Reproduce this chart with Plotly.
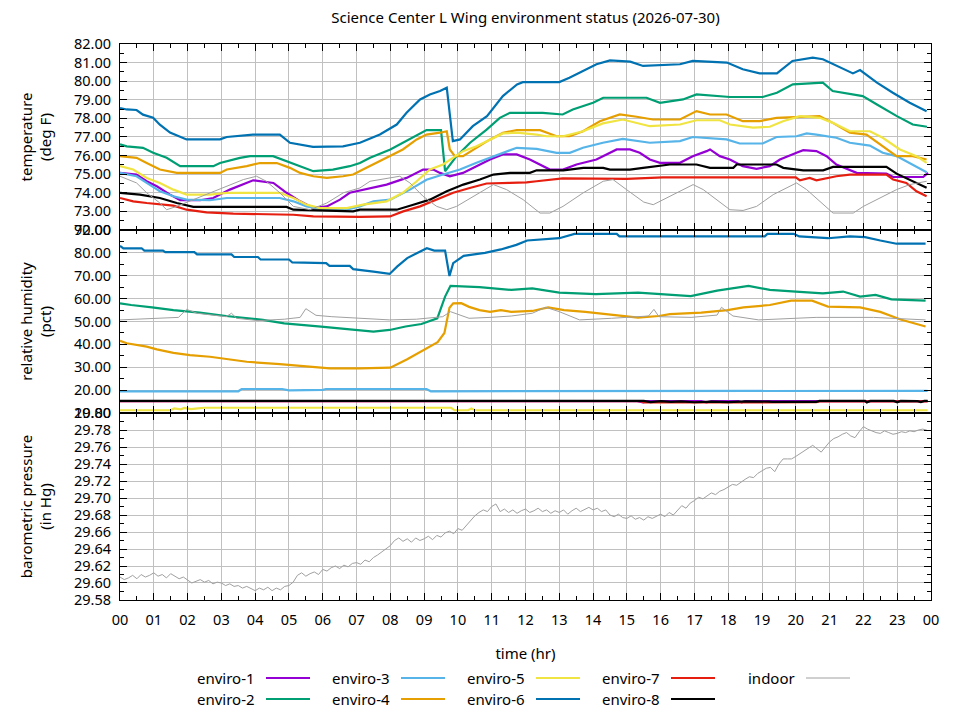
import plotly.graph_objects as go
from plotly.subplots import make_subplots

# ---- temperature (deg F) ----
t_temp1 = [0, 0.49, 0.79, 1.09, 1.48, 1.78, 2.37, 2.76, 3.25, 3.75, 3.94, 4.54, 4.93, 5.33, 5.72, 6.12, 6.51, 6.8,
           7.19, 7.89, 8.48, 8.97, 9.27, 9.47, 9.76, 10.15, 10.55, 10.95, 11.33, 11.74, 12.13, 12.51, 12.72, 13.11,
           13.51, 14.1, 14.7, 15.09, 15.38, 15.68, 15.98, 16.57, 16.95, 17.36, 17.46, 17.75, 18.05, 18.43, 18.84,
           19.23, 19.53, 20.02, 20.22, 20.61, 20.91, 21.2, 21.8, 22.68, 22.88, 23.77, 23.91]
temp1 = [75.07, 74.98, 74.62, 74.35, 73.9, 73.6, 73.6, 73.72, 74.17, 74.53, 74.67, 74.53, 74.0, 73.54, 73.18, 73.27,
         73.63, 74.0, 74.17, 74.44, 74.8, 75.25, 75.25, 75.07, 74.89, 75.07, 75.43, 75.79, 76.06, 76.06, 75.79,
         75.43, 75.25, 75.25, 75.52, 75.79, 76.33, 76.33, 76.15, 75.79, 75.61, 75.61, 75.97, 76.24, 76.33, 75.97,
         75.79, 75.43, 75.29, 75.43, 75.79, 76.15, 76.29, 76.24, 75.97, 75.52, 75.07, 75.03, 74.85, 74.85, 75.07]

t_temp2 = [0, 0.2, 0.68, 0.98, 1.38, 1.78, 2.76, 2.96, 3.55, 3.85, 4.53, 4.94, 5.33, 5.72, 6.3, 6.8, 7.1, 7.4, 8.0,
           8.58, 9.07, 9.5, 9.62, 9.96, 10.36, 10.85, 11.24, 11.54, 12.51, 13.1, 13.4, 14.0, 14.3, 15.09, 15.58,
           15.98, 16.66, 17.06, 18.05, 19.02, 19.44, 19.91, 20.8, 21.09, 21.98, 22.4, 22.99, 23.46, 23.88]
temp2 = [76.6, 76.5, 76.42, 76.15, 75.88, 75.43, 75.43, 75.6, 75.88, 75.97, 75.97, 75.7, 75.43, 75.16, 75.25, 75.43,
         75.6, 75.88, 76.33, 76.87, 77.37, 77.37, 75.16, 75.97, 76.69, 77.4, 78.03, 78.3, 78.3, 78.21, 78.48, 78.84,
         79.11, 79.11, 79.11, 78.84, 79.02, 79.29, 79.15, 79.15, 79.38, 79.83, 79.92, 79.47, 79.2, 78.75, 78.12,
         77.67, 77.55]

t_temp3 = [0, 0.49, 0.79, 1.18, 1.58, 1.97, 2.66, 3.16, 4.73, 5.13, 5.52, 5.92, 6.71, 7.1, 7.5, 8.0, 8.58, 9.07,
           9.56, 10.06, 10.55, 10.95, 11.33, 11.74, 12.33, 12.92, 13.31, 13.7, 14.29, 14.88, 15.68, 16.57, 16.95,
           17.95, 18.34, 19.02, 19.43, 20.02, 20.32, 20.61, 21.2, 21.6, 22.19, 22.57, 22.98, 23.46, 23.87]
temp3 = [75.07, 74.89, 74.53, 74.08, 73.81, 73.63, 73.6, 73.72, 73.72, 73.54, 73.27, 73.13, 73.09, 73.27, 73.54,
         73.63, 74.17, 74.7, 74.98, 75.25, 75.61, 75.88, 76.15, 76.42, 76.36, 76.15, 76.15, 76.42, 76.69, 76.9,
         76.69, 76.78, 77.0, 76.87, 76.65, 76.65, 77.0, 77.04, 77.19, 77.13, 76.96, 76.69, 76.54, 76.15, 75.97,
         75.52, 75.1]

t_temp4 = [0, 0.49, 0.79, 1.18, 1.68, 2.96, 3.16, 3.75, 4.14, 4.64, 5.03, 5.33, 5.72, 6.12, 6.6, 6.9, 7.19, 7.78,
           8.37, 8.78, 9.07, 9.47, 9.67, 9.76, 9.91, 10.15, 10.55, 10.95, 11.33, 11.74, 12.43, 12.92, 13.31, 13.7,
           14.2, 14.79, 15.29, 15.77, 16.57, 17.06, 17.46, 17.95, 18.43, 18.93, 19.43, 19.92, 20.3, 20.7, 21.09,
           21.6, 22.09, 22.57, 22.98, 23.46, 23.87]
temp4 = [75.97, 75.88, 75.6, 75.25, 75.07, 75.07, 75.25, 75.43, 75.6, 75.6, 75.34, 75.07, 74.89, 74.8, 74.89, 74.98,
         75.25, 75.79, 76.33, 76.87, 77.13, 77.23, 77.31, 76.33, 75.97, 75.97, 76.42, 76.87, 77.23, 77.37, 77.37,
         77.04, 77.04, 77.31, 77.85, 78.21, 78.09, 77.94, 77.94, 78.39, 78.21, 78.21, 77.85, 77.85, 78.03, 78.07,
         78.12, 78.12, 77.76, 77.23, 77.13, 76.5, 75.97, 75.97, 75.79]

t_temp5 = [0, 0.39, 0.79, 1.18, 1.58, 1.97, 2.66, 3.16, 4.73, 5.13, 5.52, 5.92, 6.71, 7.19, 7.89, 8.37, 8.78, 9.17,
           9.56, 9.85, 10.15, 10.55, 10.95, 11.33, 11.74, 12.33, 12.62, 13.11, 13.7, 14.29, 14.88, 15.09, 15.68,
           16.57, 17.06, 17.75, 18.05, 18.73, 19.23, 19.62, 20.12, 20.71, 21.09, 21.6, 22.19, 22.57, 23.08, 23.57,
           23.87]
temp5 = [75.43, 75.25, 74.8, 74.53, 74.17, 73.9, 73.9, 74.0, 74.0, 73.72, 73.36, 73.18, 73.18, 73.36, 73.54, 74.0,
         74.62, 75.25, 75.52, 75.88, 76.24, 76.5, 76.87, 77.19, 77.23, 77.13, 77.04, 77.04, 77.31, 77.73, 77.94,
         77.85, 77.58, 77.67, 77.9, 77.9, 77.67, 77.5, 77.55, 77.85, 78.12, 78.03, 77.76, 77.31, 77.31, 76.96,
         76.33, 75.97, 75.61]

t_temp6 = [0, 0.2, 0.49, 0.68, 0.98, 1.18, 1.48, 1.97, 2.96, 3.16, 3.93, 4.73, 5.03, 5.71, 6.6, 7.1, 7.69, 8.19,
           8.48, 8.88, 9.17, 9.47, 9.67, 9.85, 10.06, 10.44, 10.86, 11.33, 11.75, 11.92, 13.0, 13.3, 14.1, 14.5,
           15.1, 15.48, 16.57, 16.95, 17.96, 18.43, 18.93, 19.44, 19.9, 20.5, 20.8, 21.2, 21.69, 21.9, 22.4,
           22.87, 23.37, 23.87]
temp6 = [78.56, 78.48, 78.45, 78.2, 78.04, 77.66, 77.24, 76.87, 76.87, 77.0, 77.13, 77.13, 76.69, 76.47, 76.5,
         76.69, 77.13, 77.67, 78.3, 79.02, 79.29, 79.47, 79.65, 76.78, 76.87, 77.58, 78.12, 79.2, 79.83, 79.95,
         79.95, 80.19, 80.91, 81.12, 81.05, 80.82, 80.91, 81.09, 81.0, 80.64, 80.42, 80.42, 81.09, 81.27, 81.18,
         80.82, 80.42, 80.6, 79.92, 79.38, 78.84, 78.39]

t_temp7 = [0, 0.39, 0.79, 1.58, 1.97, 2.56, 3.35, 5.13, 5.72, 7.1, 7.99, 8.38, 8.88, 9.37, 9.86, 10.35, 10.85,
           11.54, 12.03, 12.33, 13.1, 15.0, 16.07, 20.0, 20.12, 20.41, 20.61, 21.2, 21.6, 22.68, 22.88, 23.27,
           23.57, 23.87]
temp7 = [73.72, 73.54, 73.45, 73.31, 73.09, 72.95, 72.88, 72.82, 72.73, 72.7, 72.73, 73.0, 73.27, 73.63, 74.0,
         74.26, 74.5, 74.53, 74.56, 74.62, 74.77, 74.75, 74.83, 74.83, 74.67, 74.8, 74.67, 74.89, 74.98, 74.98,
         74.71, 74.53, 74.08, 73.81]

t_temp8 = [0, 0.59, 1.18, 1.68, 2.17, 4.93, 5.13, 6.9, 7.1, 8.19, 8.68, 9.17, 9.67, 10.16, 10.65, 11.05, 11.54,
           12.13, 12.33, 13.12, 13.71, 14.3, 14.5, 15.09, 15.48, 16.27, 17.06, 17.46, 18.15, 18.25, 19.43, 19.63,
           20.22, 20.81, 21.1, 22.68, 22.98, 23.37, 23.87]
temp8 = [74.0, 73.9, 73.72, 73.45, 73.24, 73.24, 73.09, 73.0, 73.09, 73.09, 73.36, 73.63, 74.08, 74.44, 74.71,
         74.98, 75.07, 75.07, 75.21, 75.21, 75.34, 75.34, 75.25, 75.25, 75.34, 75.52, 75.52, 75.34, 75.34, 75.52,
         75.52, 75.34, 75.21, 75.21, 75.39, 75.39, 75.03, 74.71, 74.27]

t_temp_in = [0, 0.49, 0.79, 1.18, 1.38, 1.68, 2.17, 2.66, 3.16, 3.65, 4.04, 4.33, 4.73, 5.13, 5.62, 6.12, 6.61,
             7.1, 7.4, 8.28, 8.58, 8.97, 9.37, 9.67, 9.96, 10.45, 11.05, 11.44, 11.93, 12.43, 12.72, 13.11, 13.71,
             14.3, 14.59, 14.99, 15.5, 15.78, 16.27, 16.77, 16.96, 17.26, 17.65, 18.05, 18.44, 18.84, 19.33, 19.82,
             20.02, 20.32, 20.71, 21.1, 21.7, 22.0, 22.49, 22.98, 23.37, 23.87]
temp_in = [74.89, 74.53, 74.0, 73.45, 73.09, 73.27, 73.63, 74.0, 74.35, 74.71, 74.89, 74.62, 74.0, 73.27, 73.09,
           73.45, 74.0, 74.26, 74.62, 74.89, 74.53, 73.81, 73.27, 73.09, 73.27, 73.81, 74.44, 74.17, 73.63, 72.91,
           72.91, 73.27, 74.0, 74.62, 74.71, 74.17, 73.5, 73.36, 73.81, 74.26, 74.44, 74.17, 73.63, 73.09, 73.05,
           73.27, 73.9, 74.35, 74.53, 74.17, 73.54, 72.91, 72.91, 73.27, 73.72, 74.17, 74.44, 74.62]

# ---- relative humidity (pct) ----
t_rh1 = [0, 15.3, 15.48, 15.6, 17.2, 17.36, 17.5, 18.3, 18.4, 18.5, 23.9]
rh1 = [15.2, 15.2, 14.7, 15.2, 15.2, 14.7, 15.2, 15.2, 14.7, 15.2, 15.2]

t_rh2 = [0, 0.33, 0.95, 1.58, 2.36, 3.14, 4.23, 4.86, 5.95, 6.73, 7.5, 7.98, 8.45, 8.92, 9.39, 9.62, 9.78, 10.64,
         11.58, 12.2, 13.0, 14.08, 15.33, 16.89, 17.67, 18.6, 19.23, 20.0, 20.8, 21.4, 21.9, 22.36, 22.83, 23.84]
rh2 = [57.95, 57.2, 56.2, 55.0, 53.9, 52.4, 50.7, 49.2, 47.8, 46.6, 45.6, 46.3, 47.8, 48.9, 51.4, 60.9, 65.6, 65.0,
       63.8, 64.5, 62.6, 62.0, 62.6, 61.1, 63.5, 65.6, 63.8, 63.1, 62.3, 63.1, 60.9, 61.6, 59.7, 59.1]

t_rh3 = [0, 3.5, 3.6, 4.8, 5.0, 6.0, 6.1, 9.07, 9.2, 19.2, 19.3, 23.9]
rh3 = [19.5, 19.5, 20.5, 20.5, 19.9, 20.1, 20.5, 20.5, 19.5, 19.5, 19.7, 19.7]

t_rh4 = [0, 0.2, 0.79, 1.09, 1.58, 2.07, 2.66, 3.06, 3.75, 4.73, 5.42, 6.21, 7.1, 8.0, 8.5, 9.0, 9.4, 9.6, 9.75,
         9.86, 10.1, 10.33, 10.64, 10.95, 11.27, 11.58, 12.2, 12.67, 13.14, 13.77, 14.55, 15.33, 15.95, 16.27,
         17.2, 17.98, 18.45, 19.23, 19.86, 20.48, 20.95, 21.9, 22.5, 23.1, 23.84]
rh4 = [41.6, 40.5, 39.0, 37.8, 36.3, 35.3, 34.6, 33.9, 32.4, 31.4, 30.5, 29.5, 29.5, 29.8, 33.5, 37.5, 41.0, 45.0,
       56.0, 57.95, 58.0, 56.4, 55.0, 54.2, 55.0, 54.2, 54.6, 56.2, 55.0, 54.2, 52.8, 51.7, 52.4, 53.2, 53.9, 55.0,
       56.2, 57.2, 59.1, 59.1, 56.5, 56.2, 54.2, 50.9, 47.8]

t_rh5 = [0, 1.5, 1.6, 1.8, 1.9, 2.1, 2.3, 2.5, 9.8, 9.9, 10.3, 10.4, 10.5, 23.9]
rh5 = [11.2, 11.2, 12.0, 11.6, 12.2, 11.7, 12.0, 12.3, 12.3, 11.2, 11.2, 12.0, 11.2, 11.2]

t_rh6 = [0, 0.1, 0.64, 0.72, 1.27, 1.34, 2.2, 2.28, 3.3, 3.38, 4.08, 4.16, 5.0, 5.1, 6.1, 6.2, 6.8, 6.9, 7.5, 7.98,
         8.2, 8.5, 8.84, 9.08, 9.3, 9.62, 9.75, 9.86, 10.17, 10.8, 11.27, 11.73, 12.05, 13.0, 13.45, 14.7, 14.78,
         19.08, 19.16, 19.94, 20.1, 20.95, 21.6, 22.05, 22.5, 22.98, 23.84]
rh6 = [83.1, 82.0, 82.0, 81.0, 81.0, 80.3, 80.3, 79.3, 79.3, 78.2, 78.2, 77.1, 77.1, 75.8, 75.5, 74.3, 74.3, 72.9,
       71.8, 70.8, 74.0, 77.7, 80.3, 82.0, 81.0, 81.0, 69.9, 75.5, 78.7, 80.0, 81.5, 83.5, 85.4, 86.4, 88.3, 88.3,
       87.2, 87.2, 88.3, 88.3, 87.2, 86.4, 87.2, 86.9, 85.4, 84.0, 84.0]

t_rh7 = [0, 15.4, 15.5, 20.6, 20.7, 23.9]
rh7 = [15.2, 15.2, 14.6, 14.7, 15.1, 15.1]

t_rh8 = [0, 15.5, 15.7, 16.0, 16.3, 16.6, 17.0, 17.5, 18.0, 18.5, 19.2, 19.3, 20.6, 20.7, 22.05, 22.1, 22.2, 22.9,
         23.0, 23.1, 23.6, 23.7, 23.8, 23.9]
rh8 = [15.3, 15.3, 14.8, 15.2, 14.9, 15.1, 14.7, 15.0, 14.8, 15.1, 15.0, 14.9, 14.9, 15.3, 15.3, 14.6, 15.3, 15.3,
       14.7, 15.3, 15.2, 14.8, 15.3, 15.3]

t_rh_in = [0, 1.73, 1.97, 2.28, 3.14, 3.3, 3.45, 4.08, 4.86, 5.33, 5.5, 5.8, 6.27, 7.98, 8.77, 9.55, 9.78, 10.33,
           10.95, 11.58, 12.2, 12.6, 13.0, 13.6, 14.55, 15.64, 15.8, 15.95, 16.9, 17.67, 17.8, 18.14, 18.9, 20.6,
           22.3, 23.84]
rh_in = [50.7, 51.8, 55.3, 53.6, 52.1, 53.6, 51.4, 50.4, 51.0, 51.8, 55.6, 52.7, 52.1, 50.7, 51.0, 52.1, 54.3, 51.4,
         51.8, 52.4, 53.6, 56.2, 54.3, 50.7, 51.4, 52.4, 55.3, 52.1, 51.8, 52.8, 56.2, 52.4, 50.7, 51.8, 51.8, 50.7]

# ---- barometric pressure (in Hg), indoor only, every 7.5 min ----
t_pres = [i * 0.125 for i in range(192)]
pres = [29.607, 29.604, 29.606, 29.609, 29.605, 29.610, 29.607, 29.609,
        29.612, 29.608, 29.610, 29.606, 29.611, 29.608, 29.605, 29.607,
        29.603, 29.600, 29.602, 29.604, 29.601, 29.603, 29.599, 29.601,
        29.600, 29.597, 29.599, 29.596, 29.597, 29.594, 29.596, 29.593,
        29.591, 29.594, 29.592, 29.595, 29.591, 29.594, 29.592, 29.596,
        29.597, 29.601, 29.609, 29.612, 29.608, 29.611, 29.613, 29.610,
        29.616, 29.614, 29.618, 29.620, 29.617, 29.621, 29.619, 29.623,
        29.624, 29.622, 29.627, 29.625, 29.630, 29.633, 29.637, 29.641,
        29.644, 29.650, 29.653, 29.649, 29.652, 29.648, 29.653, 29.650,
        29.652, 29.655, 29.651, 29.656, 29.654, 29.659, 29.661, 29.658,
        29.664, 29.662, 29.668, 29.674, 29.679, 29.683, 29.686, 29.684,
        29.690, 29.693, 29.684, 29.687, 29.683, 29.686, 29.682, 29.685,
        29.687, 29.683, 29.685, 29.688, 29.684, 29.686, 29.682, 29.685,
        29.683, 29.686, 29.681, 29.685, 29.688, 29.684, 29.687, 29.689,
        29.686, 29.688, 29.684, 29.686, 29.680, 29.678, 29.681, 29.677,
        29.676, 29.679, 29.675, 29.677, 29.674, 29.678, 29.676, 29.679,
        29.681, 29.678, 29.683, 29.680, 29.686, 29.691, 29.688, 29.694,
        29.697, 29.701, 29.699, 29.703, 29.706, 29.704, 29.708, 29.710,
        29.713, 29.716, 29.715, 29.719, 29.722, 29.725, 29.724, 29.729,
        29.732, 29.735, 29.736, 29.731, 29.740, 29.746, 29.746, 29.746,
        29.749, 29.752, 29.755, 29.758, 29.762, 29.758, 29.754, 29.760,
        29.766, 29.770, 29.772, 29.775, 29.777, 29.773, 29.771, 29.778,
        29.784, 29.781, 29.779, 29.777, 29.776, 29.779, 29.777, 29.775,
        29.776, 29.778, 29.777, 29.779, 29.778, 29.780, 29.781, 29.780]

names = ["enviro-1", "enviro-2", "enviro-3", "enviro-4", "enviro-5", "enviro-6", "enviro-7", "enviro-8", "indoor"]
colors = ["#9400d3", "#009e73", "#56b4e9", "#e69f00", "#f0e442", "#0072b2", "#e51e10", "#000000", "#a0a0a0"]
hours = list(range(25))
hour_labels = ["%02d" % (h % 24) for h in hours]

temp_series = [(t_temp1, temp1), (t_temp2, temp2), (t_temp3, temp3), (t_temp4, temp4), (t_temp5, temp5),
               (t_temp6, temp6), (t_temp7, temp7), (t_temp8, temp8), (t_temp_in, temp_in)]
rh_series = [(t_rh1, rh1), (t_rh2, rh2), (t_rh3, rh3), (t_rh4, rh4), (t_rh5, rh5),
             (t_rh6, rh6), (t_rh7, rh7), (t_rh8, rh8), (t_rh_in, rh_in)]

FONT = "Noto Sans"
TICKFONT = dict(family=FONT, size=14.5, color="black")
fig = make_subplots(rows=3, cols=1, shared_xaxes=True, vertical_spacing=0)

for i, (tt, vv) in enumerate(temp_series):
    w = 1 if names[i] == "indoor" else 2.2
    fig.add_trace(go.Scatter(x=tt, y=vv, mode="lines", name=names[i], showlegend=False,
                             line=dict(color=colors[i], width=w)), row=1, col=1)
for i, (tt, vv) in enumerate(rh_series):
    w = 1 if names[i] == "indoor" else 2.2
    fig.add_trace(go.Scatter(x=tt, y=vv, mode="lines", name=names[i], showlegend=False,
                             line=dict(color=colors[i], width=w)), row=2, col=1)
fig.add_trace(go.Scatter(x=t_pres, y=pres, mode="lines", name="indoor", showlegend=False,
                         line=dict(color=colors[8], width=1)), row=3, col=1)

axis_common = dict(showline=True, linecolor="black", linewidth=1, mirror="ticks", ticks="inside",
                   ticklen=7, tickcolor="black", showgrid=True, gridcolor="#c0c0c0", gridwidth=1,
                   zeroline=False, tickfont=TICKFONT, automargin=False)

for r in (1, 2, 3):
    fig.update_xaxes(range=[0, 24], tickvals=hours, ticktext=hour_labels, ticklabelstandoff=7,
                     minor=dict(dtick=0.5, ticklen=4, tickcolor="black", ticks="inside", showgrid=False),
                     showticklabels=(r == 3), row=r, col=1, **axis_common)

fig.update_xaxes(title=dict(text="time (hr)", font=dict(family=FONT, size=15, color="black"), standoff=20),
                 row=3, col=1)

ytitle_font = dict(family=FONT, size=15, color="black")
fig.update_yaxes(range=[72, 82], tickvals=list(range(72, 83)), tickformat=".2f", ticklabelstandoff=5,
                 minor=dict(dtick=0.5, ticklen=4, tickcolor="black", ticks="inside", showgrid=False),
                 title=dict(text="temperature<br>(deg F)", font=ytitle_font, standoff=18),
                 domain=[0.6655, 1.0], row=1, col=1, **axis_common)
fig.update_yaxes(range=[10, 90], tickvals=list(range(10, 91, 10)), tickformat=".2f", ticklabelstandoff=5,
                 minor=dict(dtick=5, ticklen=4, tickcolor="black", ticks="inside", showgrid=False),
                 title=dict(text="relative humidity<br>(pct)", font=ytitle_font, standoff=18),
                 domain=[0.3363, 0.6655], row=2, col=1, **axis_common)
fig.update_yaxes(range=[29.58, 29.80], tickvals=[29.58 + 0.02 * k for k in range(12)], tickformat=".2f",
                 ticklabelstandoff=5,
                 minor=dict(dtick=0.01, ticklen=4, tickcolor="black", ticks="inside", showgrid=False),
                 title=dict(text="barometric pressure<br>(in Hg)", font=ytitle_font, standoff=18),
                 domain=[0.0, 0.3363], row=3, col=1, **axis_common)

# the page adds an 8px body margin, so the figure is 952x712 and positions are shifted by 8px
W, H = 952, 712
L, R, T, B = 112, 923, 36, 592


def px(x):
    return (x - L) / (R - L)


def py(y):
    return (B - y) / (B - T)


# gnuplot-style key below the plot: label, then line sample to its right
key_cols = [249, 384, 519, 654, 789]
key_rows = [670, 691]
for i, nm in enumerate(names):
    c, r = divmod(i, 2)
    xr = key_cols[c]
    yr = key_rows[r]
    fig.add_annotation(x=px(xr), y=py(yr), xref="paper", yref="paper", text=nm, showarrow=False,
                       xanchor="right", yanchor="middle", font=dict(family=FONT, size=15, color="black"))
    fig.add_shape(type="line", xref="paper", yref="paper", x0=px(xr + 9), x1=px(xr + 53), y0=py(yr), y1=py(yr),
                  line=dict(color=colors[i], width=1 if nm == "indoor" else 2.2))

fig.update_layout(
    width=W, height=H,
    margin=dict(l=L, r=W - R, t=T, b=H - B),
    plot_bgcolor="white", paper_bgcolor="white",
    font=dict(family=FONT, size=15, color="black"),
    title=dict(text="Science Center L Wing environment status (2026-07-30)", x=0.5, xref="paper",
               y=1 - 10 / H, yref="container", yanchor="middle", pad=dict(t=0, b=0),
               font=dict(family=FONT, size=15, color="black")),
    showlegend=False,
)

fig.write_html("out.html")
